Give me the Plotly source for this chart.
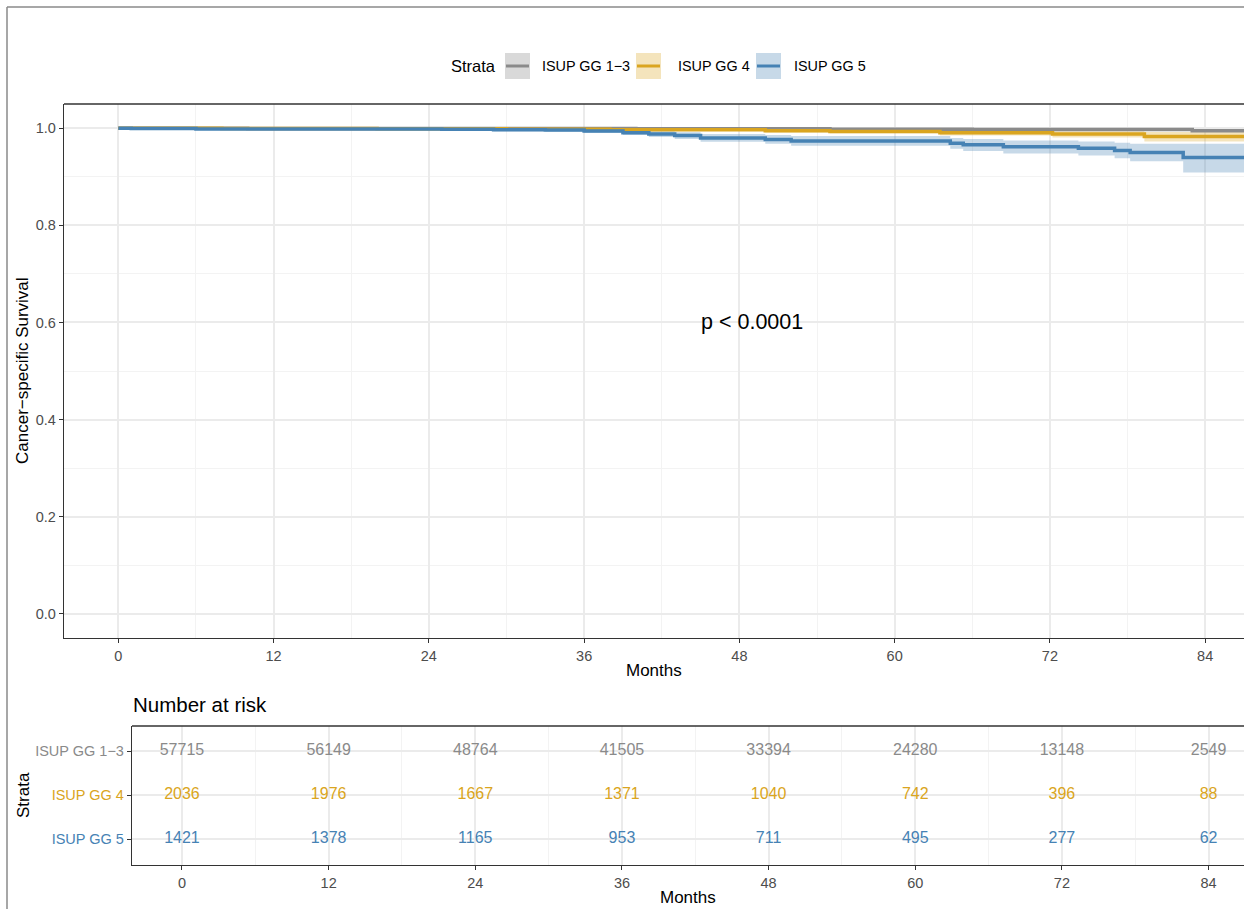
import plotly.graph_objects as go

# ---- Kaplan-Meier estimates (months, survival, 95% CI) ----
strata = ["ISUP GG 1\u22123", "ISUP GG 4", "ISUP GG 5"]
colors = ["#8A8A8A", "#DAA520", "#4682B4"]
band_colors = ["rgba(128,128,128,0.3)", "rgba(218,165,32,0.3)", "rgba(70,130,180,0.3)"]

gg13_time = [0, 10, 24, 40, 55, 66, 83, 88]
gg13_surv = [1.000, 0.9997, 0.9993, 0.9988, 0.9982, 0.9975, 0.9950, 0.9950]
gg13_lower = [1.000, 0.9994, 0.9989, 0.9983, 0.9975, 0.9965, 0.9935, 0.9935]
gg13_upper = [1.000, 1.000, 0.9997, 0.9993, 0.9989, 0.9985, 0.9965, 0.9965]

gg4_time = [0, 8, 20, 30, 38, 50, 55, 63.5, 72.2, 79.3, 88]
gg4_surv = [1.000, 0.9995, 0.9990, 0.9980, 0.9970, 0.9950, 0.9935, 0.9910, 0.9880, 0.9830, 0.9830]
gg4_lower = [1.000, 0.9982, 0.9974, 0.9960, 0.9945, 0.9915, 0.9895, 0.9850, 0.9810, 0.9730, 0.9730]
gg4_upper = [1.000, 1.000, 1.000, 0.9998, 0.9993, 0.9982, 0.9972, 0.9960, 0.9940, 0.9925, 0.9925]

gg5_time = [0, 1, 6, 25, 29, 33, 36, 39, 41, 43, 45, 50, 52, 64.3, 65.3, 68.4, 74.2, 77, 78.2, 82.3, 88]
gg5_surv = [1.000, 0.9993, 0.9986, 0.9978, 0.9970, 0.9962, 0.9945, 0.991, 0.988, 0.985, 0.980,
            0.977, 0.974, 0.969, 0.966, 0.962, 0.959, 0.954, 0.950, 0.940, 0.940]
gg5_lower = [1.000, 0.9978, 0.9966, 0.9952, 0.9940, 0.9928, 0.9905, 0.986, 0.982, 0.978, 0.972,
             0.968, 0.964, 0.958, 0.953, 0.948, 0.944, 0.938, 0.932, 0.909, 0.909]
gg5_upper = [1.000, 1.000, 1.000, 0.9998, 0.9995, 0.9990, 0.9978, 0.996, 0.994, 0.992, 0.988,
             0.986, 0.984, 0.980, 0.978, 0.975, 0.973, 0.970, 0.968, 0.968, 0.968]

# ---- Number at risk table ----
risk_times = [0, 12, 24, 36, 48, 60, 72, 84]
risk_gg13 = [57715, 56149, 48764, 41505, 33394, 24280, 13148, 2549]
risk_gg4 = [2036, 1976, 1667, 1371, 1040, 742, 396, 88]
risk_gg5 = [1421, 1378, 1165, 953, 711, 495, 277, 62]

p_label = "p < 0.0001"

W, H = 1244, 909
FONT = "Liberation Sans, Arial, sans-serif"
TICK_COL = "#4D4D4D"
AXIS_COL = "#333333"


def px(x):
    return x / W


def py(y):
    return 1 - y / H


curves = [
    (gg13_time, gg13_surv, gg13_lower, gg13_upper),
    (gg4_time, gg4_surv, gg4_lower, gg4_upper),
    (gg5_time, gg5_surv, gg5_lower, gg5_upper),
]

fig = go.Figure()

# confidence bands
for (t, s, lo, up), bc, name in zip(curves, band_colors, strata):
    fig.add_trace(go.Scatter(x=t, y=lo, mode="lines", line=dict(width=0, shape="hv"),
                             showlegend=False, hoverinfo="skip", xaxis="x", yaxis="y"))
    fig.add_trace(go.Scatter(x=t, y=up, mode="lines", line=dict(width=0, shape="hv"),
                             fill="tonexty", fillcolor=bc, showlegend=False,
                             hoverinfo="skip", xaxis="x", yaxis="y"))

# survival step curves
for (t, s, lo, up), col, name in zip(curves, colors, strata):
    fig.add_trace(go.Scatter(x=t, y=s, mode="lines", name=name,
                             line=dict(color=col, width=3.5, shape="hv"),
                             showlegend=False, xaxis="x", yaxis="y"))

# risk table text
row_pos = [3, 2, 1]
for counts, col, yrow in zip([risk_gg13, risk_gg4, risk_gg5], colors, row_pos):
    fig.add_trace(go.Scatter(x=risk_times, y=[yrow] * len(risk_times), mode="text",
                             text=[str(c) for c in counts],
                             textfont=dict(color=col, size=16, family=FONT),
                             textposition="middle center", showlegend=False,
                             hoverinfo="skip", xaxis="x2", yaxis="y2"))

grid_major = dict(showgrid=True, gridcolor="#EBEBEB", gridwidth=2)
axis_common = dict(showline=True, linecolor=AXIS_COL, linewidth=1.3, ticks="outside",
                   ticklen=4, tickwidth=1.3, tickcolor=AXIS_COL, zeroline=False,
                   tickfont=dict(size=14.5, color=TICK_COL, family=FONT))

fig.update_layout(
    width=W, height=H,
    margin=dict(l=0, r=0, t=0, b=0),
    paper_bgcolor="white", plot_bgcolor="white",
    font=dict(family=FONT),
    xaxis=dict(domain=[px(64), 1], range=[-4.2, 87.0], tickmode="array",
               tickvals=risk_times, ticktext=[str(v) for v in risk_times],
               minor=dict(dtick=6, tick0=0, showgrid=True, gridcolor="#F3F3F3", gridwidth=1,
                          ticks=""),
               anchor="y", **grid_major, **axis_common),
    yaxis=dict(domain=[py(638), py(104)], range=[-0.05, 1.05], tickmode="array",
               tickvals=[0, 0.2, 0.4, 0.6, 0.8, 1.0],
               ticktext=["0.0", "0.2", "0.4", "0.6", "0.8", "1.0"],
               minor=dict(dtick=0.1, tick0=0, showgrid=True, gridcolor="#F3F3F3", gridwidth=1,
                          ticks=""),
               anchor="x", **grid_major, **axis_common),
    xaxis2=dict(domain=[px(132), 1], range=[-4.09, 86.9], tickmode="array",
                tickvals=risk_times, ticktext=[str(v) for v in risk_times],
                minor=dict(dtick=6, tick0=0, showgrid=True, gridcolor="#F3F3F3", gridwidth=1,
                           ticks=""),
                anchor="y2", **grid_major, **axis_common),
    yaxis2=dict(domain=[py(865), py(726)], range=[0.41, 3.57], tickmode="array",
                tickvals=row_pos,
                ticktext=[f'<span style="color:{c}">{s}</span>' for s, c in zip(strata, colors)],
                anchor="x2", **grid_major, **axis_common),
)

shapes = []
# top borders of the two panels
shapes.append(dict(type="line", xref="x domain", yref="y domain", x0=0, x1=1, y0=1, y1=1,
                   line=dict(color=AXIS_COL, width=1.3)))
shapes.append(dict(type="line", xref="x2 domain", yref="y2 domain", x0=0, x1=1, y0=1, y1=1,
                   line=dict(color=AXIS_COL, width=1.3)))
# outer frame
shapes.append(dict(type="line", xref="paper", yref="paper", x0=px(7), x1=1, y0=py(7), y1=py(7),
                   line=dict(color="#8A8A8A", width=1.5)))
shapes.append(dict(type="line", xref="paper", yref="paper", x0=px(7), x1=px(7), y0=0, y1=py(7),
                   line=dict(color="#8A8A8A", width=1.5)))

# legend keys
key_x = [505, 636, 756]
label_x = [540, 676, 792]
for kx, col, bc in zip(key_x, colors, band_colors):
    shapes.append(dict(type="rect", xref="paper", yref="paper",
                       x0=px(kx), x1=px(kx + 25), y0=py(79), y1=py(53),
                       fillcolor=bc, line=dict(width=0)))
    shapes.append(dict(type="line", xref="paper", yref="paper",
                       x0=px(kx + 1), x1=px(kx + 24), y0=py(66), y1=py(66),
                       line=dict(color=col, width=3)))
fig.update_layout(shapes=shapes)


def label(text, x, y, size, xanchor="center", angle=0, xref="paper", yref="paper"):
    return dict(text=text, x=x, y=y, xref=xref, yref=yref, xanchor=xanchor,
                yanchor="middle", textangle=angle, showarrow=False,
                font=dict(size=size, color="black", family=FONT))


annotations = [
    label("Strata", px(449), py(66), 16.5, xanchor="left"),
    label(p_label, 49, 0.6, 21.5, xref="x", yref="y"),
    label("Cancer\u2212specific Survival", px(22), py(371), 17, angle=-90),
    label("Months", px(654), py(670), 17),
    label("Number at risk", px(131), py(704), 20.5, xanchor="left"),
    label("Strata", px(23), py(795), 17, angle=-90),
    label("Months", px(688), py(897), 17),
]
for lx, name in zip(label_x, strata):
    annotations.append(label(name, px(lx), py(66), 14.4, xanchor="left"))
fig.update_layout(annotations=annotations)

fig.write_html("out.html")
